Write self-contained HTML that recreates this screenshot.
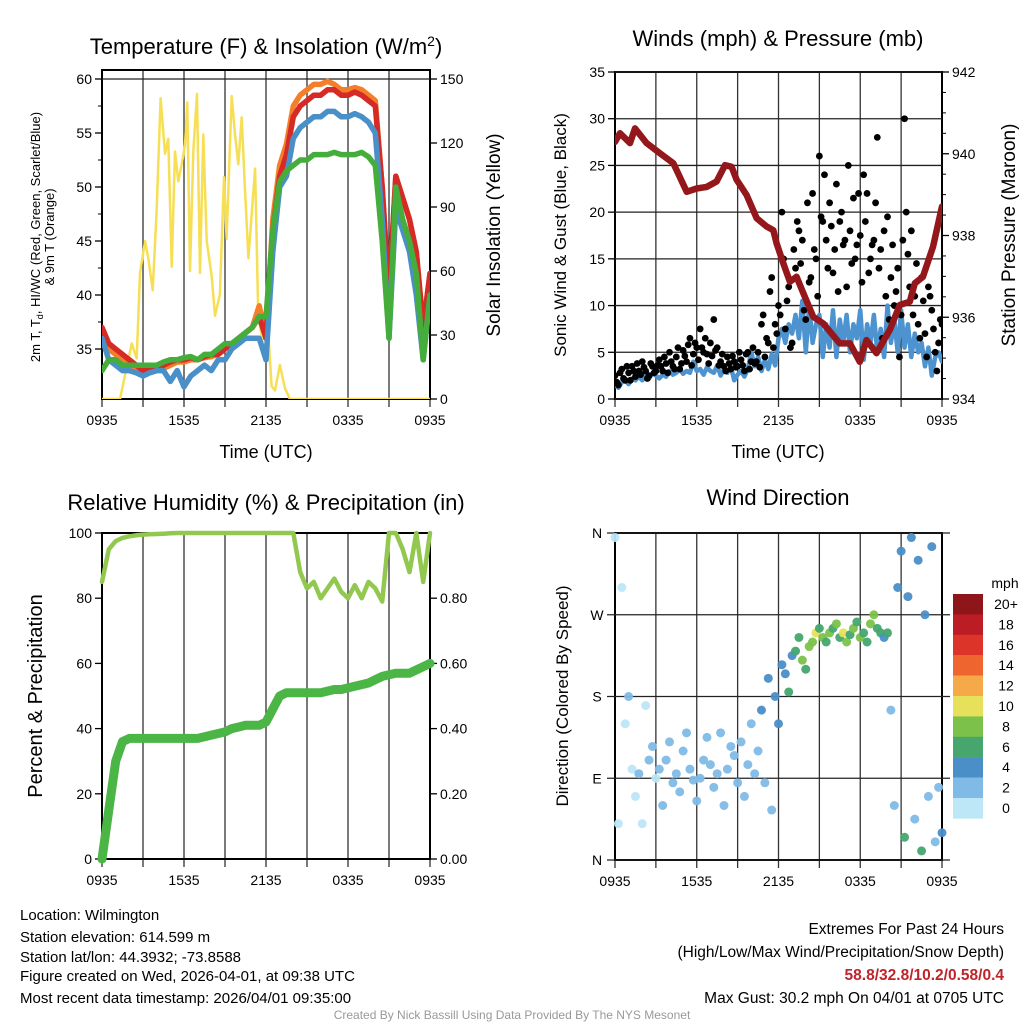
<!DOCTYPE html>
<html><head><meta charset="utf-8"><style>
html,body{margin:0;padding:0;background:#fff;}
svg{display:block;font-family:"Liberation Sans",Arial,sans-serif;}
</style></head><body>
<svg id="s" width="1024" height="1024" viewBox="0 0 1024 1024" xmlns="http://www.w3.org/2000/svg">
<rect width="1024" height="1024" fill="#fff"/>
<g id="p1"></g>
<g id="p2"></g>
<g id="p3"></g>
<g id="p4"></g>
<text x="266" y="54" font-size="22" text-anchor="middle">Temperature (F) &amp; Insolation (W/m<tspan dy="-8" font-size="14">2</tspan><tspan dy="8">)</tspan></text>
<text x="778" y="46" font-size="22" text-anchor="middle">Winds (mph) &amp; Pressure (mb)</text>
<text x="266" y="510" font-size="22" text-anchor="middle">Relative Humidity (%) &amp; Precipitation (in)</text>
<text x="778" y="505" font-size="22" text-anchor="middle">Wind Direction</text>
<text x="266" y="458" font-size="18" text-anchor="middle">Time (UTC)</text>
<text x="778" y="458" font-size="18" text-anchor="middle">Time (UTC)</text>
<text transform="translate(40,237) rotate(-90)" font-size="13" text-anchor="middle">2m T, T<tspan dy="3" font-size="9">d</tspan><tspan dy="-3">, HI/WC (Red, Green, Scarlet/Blue)</tspan></text>
<text transform="translate(54,237) rotate(-90)" font-size="13" text-anchor="middle">&amp; 9m T (Orange)</text>
<text transform="translate(500,235) rotate(-90)" font-size="19" text-anchor="middle">Solar Insolation (Yellow)</text>
<text transform="translate(566,235) rotate(-90)" font-size="17" text-anchor="middle">Sonic Wind &amp; Gust (Blue, Black)</text>
<text transform="translate(1015,235) rotate(-90)" font-size="19" text-anchor="middle">Station Pressure (Maroon)</text>
<text transform="translate(42,696) rotate(-90)" font-size="20" text-anchor="middle">Percent &amp; Precipitation</text>
<text transform="translate(568,696) rotate(-90)" font-size="17" text-anchor="middle">Direction (Colored By Speed)</text>
<g font-size="15">
<text x="20" y="920">Location: Wilmington</text>
<text x="20" y="942">Station elevation: 614.599 m</text>
<text x="20" y="962">Station lat/lon: 44.3932; -73.8588</text>
<text x="20" y="981">Figure created on Wed, 2026-04-01, at 09:38 UTC</text>
<text x="20" y="1003">Most recent data timestamp: 2026/04/01 09:35:00</text>
</g>
<g font-size="15.5" text-anchor="end">
<text x="1004" y="934">Extremes For Past 24 Hours</text>
<text x="1004" y="957">(High/Low/Max Wind/Precipitation/Snow Depth)</text>
<text x="1004" y="980" fill="#c0242b" font-weight="bold">58.8/32.8/10.2/0.58/0.4</text>
<text x="1004" y="1003">Max Gust: 30.2 mph On 04/01 at 0705 UTC</text>
</g>
<text x="512" y="1019" font-size="12" fill="#999" text-anchor="middle">Created By Nick Bassill Using Data Provided By The NYS Mesonet</text>
</svg>
<script>
// ---- data ----
const timeLabels = ["0935","1535","2135","0335","0935"];
const tempRed = [37,35.5,35,34.5,34,33.5,33,33,33.2,33.5,33.8,34,34,34.2,34,34.3,34.5,34.5,35,35.5,36,36.5,37,38,36,46,51,53,56.5,57.5,58,58.5,58.5,59,59,58.5,58.5,58.8,58.5,58,57.5,50,40,51,49,47,44,37,42];
const tempOrange = [36,35,34.5,34,33.5,33,32.8,32.8,33,33.2,33.5,33.8,33.8,34,34,34.2,34.3,34.5,35,35.5,36,36.5,37,39,36,47,52,54,57.5,58.5,59,59.5,59.5,59.8,59.5,59,59,59.2,59,58.5,58,50,40,51,49,47,44,37,42];
const tempBlue = [36,34,33.5,33,33,32.8,32.5,32.8,33,33,32,33,31.5,32.5,33,33.5,33,34,34,35,35.5,36,36,36,34,44,50,51,54.5,55.5,56,56.5,56.5,57,57,56.5,56.5,56.8,56.5,56,55,47,36,48,46,44,40,34,40];
const tempGreen = [33,34,34,33.5,33.5,33.5,33.5,33.5,33.5,33.8,34,34,34.2,34.3,34,34.5,34.5,35,35.5,35.5,36,36.5,37,38,38,46,50.5,51.5,52,52.5,52.5,53,53,53,53.2,53,53,53,53.2,52.8,52,45,36,50,47,45,42,34,40];
const solarHours = [0,1.32,2.17,2.54,2.78,3.15,3.39,3.71,4.0,4.29,4.61,4.85,5.1,5.34,5.58,5.83,6.07,6.24,6.44,6.68,6.95,7.17,7.41,7.66,8.02,8.27,8.63,8.93,9.12,9.49,9.73,9.97,10.22,10.46,10.71,11.2,11.44,11.68,11.92,12.17,12.41,12.66,13.02,13.39,13.75,24];
const solarValues = [0,0,26,19,59,74,66,51,89,141,115,122,62,116,102,110,119,139,60,116,143,59,124,74,58,39,49,104,75,142,124,110,132,98,66,108,38,30,18,31,6,4,16,5,0,0];
const windSpeed = [1.5,1.2,1.8,2.0,1.6,2.2,2.0,2.4,2.0,2.6,2.2,2.8,2.5,2.2,2.6,2.4,3.0,2.6,2.8,3.2,2.7,3.0,2.8,4.0,3.0,3.2,2.6,3.4,3.0,2.8,3.6,2.5,3.2,2.8,3.5,2.0,2.6,3.0,2.4,3.2,5.0,3.5,4.5,3.0,4.2,3.2,4.8,3.6,6.5,7.5,6.0,8.0,7.0,9.0,6.5,10.5,5.0,10.0,6.0,8.0,9.0,4.5,8.0,5.5,9.5,4.5,8.5,6.0,9.0,5.0,8.0,6.5,9.5,4.2,8.0,6.0,9.0,5.0,7.5,4.5,10.0,6.0,8.5,5.0,9.5,5.5,8.0,4.5,7.0,5.0,6.0,3.5,5.5,2.5,4.5,5.0,4.0];
const windGust = [2.5,1.5,3.2,2.0,2.8,3.5,2.4,3.0,4.0,3.0,2.5,3.5,3.0,4.2,3.0,3.8,5.0,3.5,4.5,3.2,5.2,4.0,6.5,4.8,5.5,7.5,5.0,4.8,6.0,8.5,5.5,4.0,3.5,4.5,3.2,4.0,3.5,4.2,3.0,5.0,4.0,3.8,5.0,8.0,4.5,6.0,13.0,8.0,10.0,20.0,7.5,12.0,6.0,14.0,18.0,17.0,8.5,12.5,22.0,15.0,26.0,19.0,17.0,21.0,13.5,23.0,19.0,16.5,12.0,18.0,21.5,16.5,17.5,24.0,22.0,15.0,17.0,28.0,16.0,18.0,19.5,13.0,10.0,14.0,9.0,30.0,15.5,18.0,11.0,8.0,13.0,7.0,12.0,9.5,5.0,6.0,8.0];
const windGust2 = [1.8,2.8,2.2,3.5,2.0,3.0,3.8,2.6,3.4,2.2,3.8,2.8,3.6,3.5,4.5,2.8,4.0,3.2,5.5,3.8,4.6,5.8,3.6,6.0,4.2,5.5,6.5,3.8,4.6,5.2,3.6,4.8,3.0,3.8,4.6,3.4,5.0,3.6,4.8,3.2,5.5,4.0,3.4,9.0,6.5,11.5,5.5,7.0,9.0,15.0,10.5,5.5,16.0,19.0,14.5,9.5,21.0,13.0,16.0,11.0,19.5,24.0,14.0,18.5,16.0,11.5,20.0,17.0,25.0,14.5,15.0,22.0,12.5,19.0,13.5,16.5,21.0,14.0,6.5,11.0,8.5,16.5,11.5,4.5,17.0,20.0,12.0,9.0,14.5,6.5,10.5,4.5,11.0,7.5,3.0,8.5,6.0];
const pressHours = [0,0.37,1.10,1.47,2.32,3.30,4.28,4.52,5.26,5.99,6.73,7.46,8.07,8.56,8.93,9.66,10.4,11.13,11.62,11.86,12.35,12.84,13.33,13.82,14.55,15.28,16.5,17.24,17.97,18.46,19.19,20.17,20.9,21.64,22.0,22.6,23.35,24];
const pressValues = [940.29,940.5,940.26,940.62,940.26,940.01,939.77,939.6,939.07,939.15,939.19,939.32,939.72,939.68,939.36,938.99,938.42,938.22,938.13,937.81,937.32,936.87,936.99,936.59,936.01,935.85,935.36,935.36,934.91,935.44,935.12,935.69,936.3,936.38,936.83,936.99,937.73,938.71];
const rhValues = [85,95,97.5,98.5,99,99.3,99.5,99.6,99.7,99.8,99.9,100,100,100,100,100,100,100,100,100,100,100,100,100,100,100,100,100,100,88,83,85,80,83,86,82,80,84,80,85,83,79,100,100,95,88,100,85,100];
const precipValues = [0,0.15,0.30,0.36,0.37,0.37,0.37,0.37,0.37,0.37,0.37,0.37,0.37,0.37,0.37,0.375,0.38,0.385,0.39,0.40,0.405,0.41,0.41,0.41,0.42,0.46,0.50,0.51,0.51,0.51,0.51,0.51,0.51,0.515,0.52,0.52,0.525,0.53,0.535,0.54,0.55,0.56,0.565,0.57,0.57,0.57,0.58,0.59,0.60];
const dirValues = [355,40,300,150,180,100,70,95,40,170,110,125,90,100,60,110,130,85,95,75,120,140,100,88,65,90,110,135,105,80,95,140,60,100,125,115,85,130,70,105,150,95,120,165,85,200,55,180,150,215,205,185,225,230,245,220,210,235,240,250,255,245,240,250,255,260,245,250,240,248,255,262,245,250,240,260,270,255,250,245,250,165,60,300,340,25,290,355,45,330,10,270,70,345,20,80,30];
const dirSpeeds = [1,0.5,1,1,2,1,1,2,0.5,1,2,2,1,2,2,3,2,2,3,2,2,3,2,3,2,2,3,2,2,3,2,2,3,2,2,3,2,2,3,2,2,3,2,4,3,4,2,5,4,4,5,6,4,7,6,8,7,9,8,10,7,8,6,9,7,8,6,10,8,7,9,6,8,6,7,8,9,7,6,5,7,3,3,4,5,6,4,5,3,4,7,5,3,4,3,2,4];
const speedLabels = ["20+","18","16","14","12","10","8","6","4","2","0"];
const speedColors = ["#bde6f7","#7fbbe6","#4a8fc8","#46a66e","#7cc24a","#e6e05a","#f5a948","#ee6530","#dc3428","#bc1c23","#8e1519"];

// ---- helpers ----
const NS="http://www.w3.org/2000/svg";
function mk(parent,tag,attrs){const e=document.createElementNS(NS,tag);for(const k in attrs)e.setAttribute(k,attrs[k]);parent.appendChild(e);return e;}
function lin(d0,d1,r0,r1){return v=>r0+(v-d0)*(r1-r0)/(d1-d0);}
function idxHours(arr){return arr.map((_,i)=>i*24/(arr.length-1));}
function pathFrom(xs,ys){return xs.map((x,i)=>(i?"L":"M")+x.toFixed(1)+","+ys[i].toFixed(1)).join("");}

function frame(g,x0,x1,y0,y1,xs){
  for(let h=0;h<=24;h+=3){const x=xs(h);
    const l=mk(g,"line",{x1:x,x2:x,y1:y0,y2:y1+8,stroke:"#333","stroke-width":1.3});
    
    
    if(h%6===0){const t=mk(g,"text",{x:x,y:y1+26,"font-size":14,"text-anchor":"middle"});t.textContent=timeLabels[h/6];
      
      }
  }
  const r=mk(g,"rect",{x:x0,y:y0,width:x1-x0,height:y1-y0,fill:"none",stroke:"#000","stroke-width":2});
  
  
}
function yTicks(g,vals,ys,x,side,fmt,grid,x0,x1){
  vals.forEach(v=>{const y=ys(v);
    const tk=mk(g,"line",{x1:x,x2:x+(side<0?-7:7),y1:y,y2:y,stroke:"#000","stroke-width":1.3});
    
    
    if(grid){const gl=mk(g,"line",{x1:x0,x2:x1,y1:y,y2:y,stroke:"#222","stroke-width":1.3});
      
      }
    const t=mk(g,"text",{x:x+(side<0?-10:10),y:y+5,"font-size":14,"text-anchor":side<0?"end":"start"});t.textContent=fmt(v);
    
    
  });
}
function minorTicks(g,vals,ys,x,side){vals.forEach(v=>{const y=ys(v);
  const m=mk(g,"line",{x1:x,x2:x+(side<0?-4:4),y1:y,y2:y,stroke:"#000","stroke-width":1});
  
  });}
function line(g,hours,vals,xs,ys,color,w,name){
  const p=mk(g,"path",{d:pathFrom(hours.map(xs),vals.map(ys)),fill:"none",stroke:color,"stroke-width":w,"stroke-linejoin":"round","stroke-linecap":"round"});
  
  
  return p;
}

// ---- panel 1: temperature ----
(function(){
  const g=document.getElementById("p1");
  const x0=102,x1=430,y0=70,y1=399;
  const xs=lin(0,24,x0,x1), ys=lin(35,60,349,79), ysr=lin(0,150,399,79);
  frame(g,x0,x1,y0,y1,xs);
  yTicks(g,[35,40,45,50,55,60],ys,x0,-1,v=>v,false);
  minorTicks(g,[37.5,42.5,47.5,52.5,57.5],ys,x0,-1);
  const gl=mk(g,"line",{x1:x0,x2:x1,y1:ys(60),y2:ys(60),stroke:"#222","stroke-width":1.3});
  
  
  yTicks(g,[0,30,60,90,120,150],ysr,x1,1,v=>v,false);
  const cp=mk(g,"clipPath",{id:"c1"});mk(cp,"rect",{x:x0,y:y0,width:x1-x0,height:y1-y0});
  const d=mk(g,"g",{"clip-path":"url(#c1)"});
  
  
  const h=idxHours(tempRed);
  line(d,solarHours,solarValues,xs,ysr,"#f7df55",2.5,"solar-insolation-line");
  line(d,h,tempOrange,xs,ys,"#f47f2a",5.5,"temp-9m-line");
  line(d,h,tempRed,xs,ys,"#d62a26",5.5,"temp-2m-line");
  line(d,h,tempBlue,xs,ys,"#4a90c8",5.5,"wind-chill-line");
  line(d,h,tempGreen,xs,ys,"#45ad3c",5.5,"dewpoint-line");
})();

// ---- panel 2: winds ----
(function(){
  const g=document.getElementById("p2");
  const x0=615,x1=942,y0=72,y1=399;
  const xs=lin(0,24,x0,x1), ys=lin(0,35,399,72), ysp=lin(934,942,399,72);
  frame(g,x0,x1,y0,y1,xs);
  yTicks(g,[0,5,10,15,20,25,30,35],ys,x0,-1,v=>v,true,x0,x1);
  yTicks(g,[934,936,938,940,942],ysp,x1,1,v=>v,false);
  minorTicks(g,[934.5,935,935.5,936.5,937,937.5,938.5,939,939.5,940.5,941,941.5],ysp,x1,1);
  const cp=mk(g,"clipPath",{id:"c2"});mk(cp,"rect",{x:x0,y:y0,width:x1-x0,height:y1-y0});
  const d=mk(g,"g",{"clip-path":"url(#c2)"});
  
  
  line(d,idxHours(windSpeed),windSpeed,xs,ys,"#4c93cf",4.5,"sonic-wind-line");
  const gh=idxHours(windGust);
  windGust.forEach((v,i)=>{const c=mk(d,"circle",{cx:xs(gh[i]),cy:ys(v),r:3.4,fill:"#000"});
    
    });
  const gh2=idxHours(windGust2);
  windGust2.forEach((v,i)=>{const c=mk(d,"circle",{cx:xs(gh2[i]+0.125),cy:ys(v),r:3.4,fill:"#000"});
    
    });
  line(d,pressHours,pressValues,xs,ysp,"#94181b",6.5,"pressure-line");
})();

// ---- panel 3: humidity & precip ----
(function(){
  const g=document.getElementById("p3");
  const x0=102,x1=430,y0=533,y1=859;
  const xs=lin(0,24,x0,x1), ys=lin(0,100,859,533), ysr=lin(0,1,859,533);
  frame(g,x0,x1,y0,y1,xs);
  yTicks(g,[0,20,40,60,80,100],ys,x0,-1,v=>v,false);
  yTicks(g,[0,0.2,0.4,0.6,0.8],ysr,x1,1,v=>v.toFixed(2),false);
  const cp=mk(g,"clipPath",{id:"c3"});mk(cp,"rect",{x:x0-6,y:y0-4,width:x1-x0+12,height:y1-y0+10});
  const d=mk(g,"g",{"clip-path":"url(#c3)"});
  
  
  line(d,idxHours(rhValues),rhValues,xs,ys,"#92c84f",4.5,"relative-humidity-line");
  line(d,idxHours(precipValues),precipValues,xs,ysr,"#4bb545",9,"precipitation-line");
})();

// ---- panel 4: wind direction ----
(function(){
  const g=document.getElementById("p4");
  const x0=615,x1=942,y0=533,y1=860;
  const xs=lin(0,24,x0,x1), ys=lin(0,360,860,533);
  frame(g,x0,x1,y0,y1,xs);
  const dl=["N","E","S","W","N"];
  [0,90,180,270,360].forEach((v,i)=>{const y=ys(v);
    const gl=mk(g,"line",{x1:x0-8,x2:x1+8,y1:y,y2:y,stroke:"#222","stroke-width":1.3});
    
    
    const t=mk(g,"text",{x:x0-18,y:y+5,"font-size":14,"text-anchor":"middle"});t.textContent=dl[i];
    
    });
  const hh=idxHours(dirValues);
  dirValues.forEach((v,i)=>{const b=Math.min(10,Math.floor(dirSpeeds[i]/2));
    const c=mk(g,"circle",{cx:xs(hh[i]),cy:ys(v),r:4.5,fill:speedColors[b],opacity:0.95});
    
    });
  const t=mk(g,"text",{x:1005,y:588,"font-size":14,"text-anchor":"middle"});t.textContent="mph";
  
  
  speedLabels.forEach((lab,i)=>{const y=594+i*20.4;
    const r=mk(g,"rect",{x:953,y:y,width:30,height:20.6,fill:speedColors[10-i]});
    
    
    const tx=mk(g,"text",{x:1006,y:y+15,"font-size":14,"text-anchor":"middle"});tx.textContent=lab;
    
    });
})();
</script>
</body></html>
